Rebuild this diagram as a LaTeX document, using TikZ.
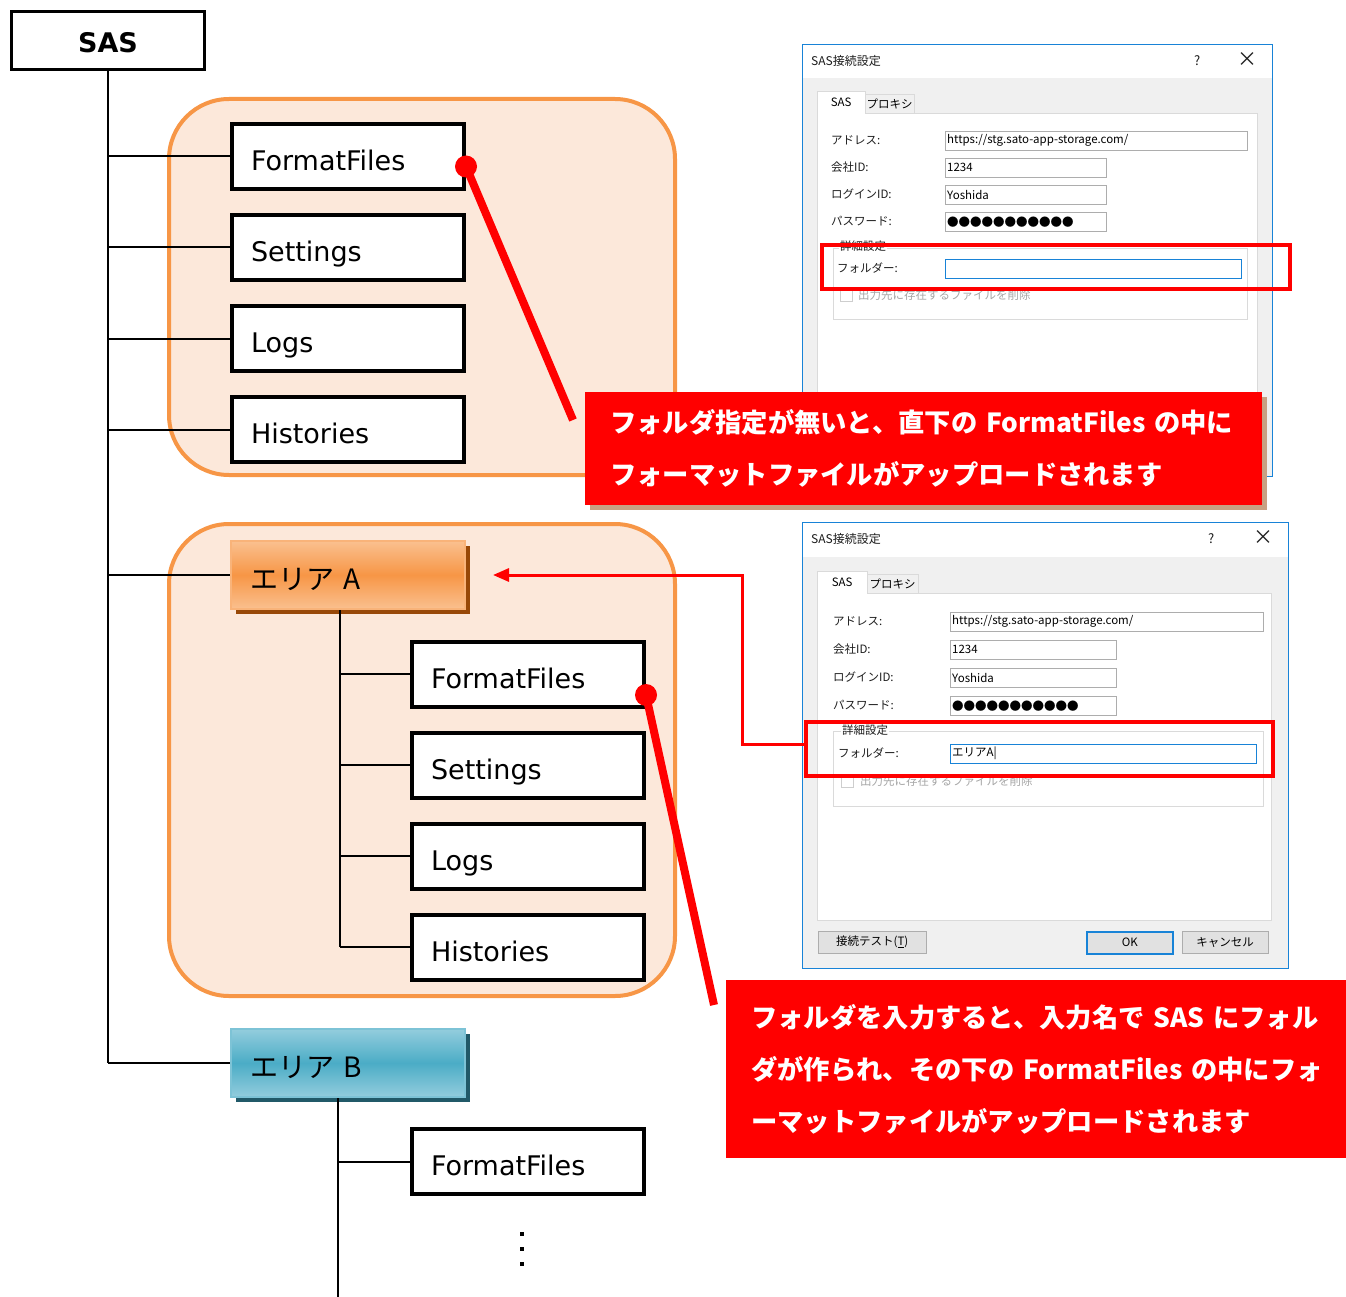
\documentclass[tikz,border=0pt]{standalone}
\usepackage{fontspec}
\setmainfont{DejaVu Sans}
\newfontfamily\jpfont{Noto Sans CJK JP}
\usepackage{tikz}
\usetikzlibrary{positioning, calc, arrows.meta, shadows}
\definecolor{grpline}{RGB}{247, 150, 70}
\definecolor{grpfill}{RGB}{252, 232, 218}
\definecolor{areaAmid}{RGB}{247, 150, 70}
\definecolor{areaAlight}{RGB}{250, 192, 143}
\definecolor{areaAshadow}{RGB}{152, 72, 7}
\definecolor{areaBmid}{RGB}{75, 172, 198}
\definecolor{areaBlight}{RGB}{147, 205, 221}
\definecolor{areaBshadow}{RGB}{33, 89, 104}
\definecolor{alertred}{RGB}{255, 0, 0}
\definecolor{calloutshadow}{RGB}{200, 160, 130}
\definecolor{winblue}{RGB}{24, 131, 215}
\definecolor{winbody}{RGB}{240, 240, 240}
\definecolor{winborder}{RGB}{173, 173, 173}
\definecolor{wingroup}{RGB}{218, 218, 218}
\definecolor{winbtn}{RGB}{225, 225, 225}
\definecolor{wintext}{RGB}{30, 30, 30}
\newcommand{\dlgfont}{\jpfont\fontsize{11.5}{13}\selectfont}
\tikzset{
  sasbox/.style={
    draw, line width=3pt, fill=white,
    minimum width=193pt, minimum height=58pt, inner ysep=0pt,
    text height=26pt, text depth=2pt,
    font=\fontsize{27}{32}\selectfont\bfseries
  },
  folderbox/.style={
    draw, line width=4pt, fill=white,
    minimum width=232pt, minimum height=65pt,
    text width=194pt, inner xsep=19pt, inner ysep=0pt, align=left,
    text height=30pt, text depth=2pt,
    font=\fontsize{27}{32}\selectfont
  },
  areabox/.style={
    folderbox, line width=2pt, minimum width=234pt, minimum height=68pt,
    text width=196pt, font=\jpfont\fontsize{28}{32}\selectfont
  },
  areaAbox/.style={
    areabox, draw=areaAlight!70!areaAmid,
    top color=areaAlight, bottom color=areaAlight, middle color=areaAmid,
    drop shadow={shadow xshift=5pt, shadow yshift=-5pt, fill=areaAshadow, opacity=1}
  },
  areaBbox/.style={
    areabox, draw=areaBlight!70!areaBmid,
    top color=areaBlight, bottom color=areaBlight, middle color=areaBmid,
    drop shadow={shadow xshift=5pt, shadow yshift=-5pt, fill=areaBshadow, opacity=1}
  },
  areagroup/.style={draw=grpline, fill=grpfill, line width=4pt, rounded corners=60pt},
  treeline/.style={draw=black, line width=2pt},
  dotmark/.style={fill=black, minimum size=4pt, inner sep=0pt},
  callout/.style={
    fill=alertred, text=white, anchor=north west, align=left,
    inner xsep=25pt, font=\jpfont\bfseries\fontsize{26.3}{52}\selectfont
  },
  pointer/.style={draw=alertred, line width=8pt},
  pointdot/.style={circle, fill=alertred, minimum size=22pt, inner sep=0pt},
  jumparrow/.style={draw=alertred, line width=3pt, -{Triangle[length=16pt, width=13pt]}},
  highlight/.style={draw=alertred, line width=4pt, anchor=north west, inner sep=0pt},
  dlgframe/.style={draw=winblue, fill=winbody, line width=1pt, anchor=north west, inner sep=0pt},
  dlgtitle/.style={fill=white, anchor=north west, inner sep=0pt},
  dlgpanel/.style={draw=wingroup, fill=white, anchor=north west, inner sep=0pt},
  dlgtab/.style={draw=wingroup, anchor=north west, inner sep=0pt, font=\dlgfont},
  dlgtext/.style={anchor=west, inner sep=0pt, text=wintext, font=\dlgfont},
  dlginput/.style={
    draw=winborder, fill=white, anchor=north west, inner xsep=2pt, inner ysep=0pt,
    align=left, text=black, minimum height=19pt, font=\dlgfont
  },
  dlggroup/.style={draw=wingroup, anchor=north west, inner sep=0pt},
  dlgbutton/.style={draw=winborder, fill=winbtn, anchor=north west, inner sep=0pt, font=\dlgfont}
}

\begin{document}
\begin{tikzpicture}[x=1pt, y=-1pt]
  \useasboundingbox (0,0) rectangle (1346,1297);

  % Root
  \node[sasbox] (sas) at (108,40.5) {SAS};

  % Group 1: no folder given
  \node[areagroup, minimum width=506pt, minimum height=376pt] (grp1) at (422,287) {};
  \node[folderbox] (ff1) at (348,156.5) {FormatFiles};
  \node[folderbox, below=22pt of ff1] (st1) {Settings};
  \node[folderbox, below=22pt of st1] (lg1) {Logs};
  \node[folderbox, below=22pt of lg1] (hs1) {Histories};

  % Group 2: folder = area A
  \node[areagroup, minimum width=506pt, minimum height=472pt] (grp2) at (422,760) {};
  \node[areaAbox] (areaA) at (348,575) {エリア A};
  \node[folderbox] (ff2) at (528,674) {FormatFiles};
  \node[folderbox, below=22pt of ff2] (st2) {Settings};
  \node[folderbox, below=22pt of st2] (lg2) {Logs};
  \node[folderbox, below=22pt of lg2] (hs2) {Histories};

  % Area B
  \node[areaBbox] (areaB) at (348,1063) {エリア B};
  \node[folderbox] (ff3) at (528,1161.5) {FormatFiles};
  \foreach \y [count=\i] in {1234,1249,1264}
    \node[dotmark] (dot\i) at (522,\y) {};

  % Tree lines
  \draw[treeline] (sas.south) -- (sas.south |- areaB.west);
  \foreach \n in {ff1,st1,lg1,hs1,areaA,areaB}
    \draw[treeline] (sas.south |- \n.west) -- (\n.west);
  \coordinate (trunkA) at ([xshift=-8pt]areaA.south);
  \draw[treeline] (trunkA) -- (trunkA |- hs2.west);
  \foreach \n in {ff2,st2,lg2,hs2}
    \draw[treeline] (trunkA |- \n.west) -- (\n.west);
  \coordinate (trunkB) at ([xshift=-10pt]areaB.south);
  \coordinate (bottomB) at (338,1297);
  \draw[treeline] (trunkB) -- (trunkB |- bottomB);
  \draw[treeline] (trunkB |- ff3.west) -- (ff3.west);

  % Dialog 1 (empty folder)
  \node[dlgframe, minimum width=470pt, minimum height=432pt] (dlg1) at (802,44) {};
  \node[dlgtitle, minimum width=469pt, minimum height=33pt] (dlg1bar) at (802.5,44.5) {};
  \node[dlgtext, font=\jpfont\fontsize{12}{14}\selectfont] (dlg1name) at (811,61) {SAS接続設定};
  \node[dlgtext, font=\jpfont\fontsize{13}{14}\selectfont] (dlg1help) at (1194,61) {?};
  \node[dlgtext, font=\jpfont\fontsize{20}{20}\selectfont] (dlg1close) at (1237,60) {×};
  \node[dlgpanel, minimum width=440pt, minimum height=328pt] (dlg1panel) at (817,113) {};
  \node[dlgtab, fill=winbody, minimum width=49pt, minimum height=19pt] (dlg1proxy) at (865,94) {プロキシ};
  \node[dlgtab, draw=none, fill=white, minimum width=48pt, minimum height=23pt] (dlg1sas) at (817,91) {SAS};
  \draw[wingroup] (dlg1sas.south west) -- (dlg1sas.north west) -- (dlg1sas.north east) -- (dlg1sas.south east);
  \node[dlgtext] (dlg1l1) at (831,140) {アドレス:};
  \node[dlgtext] (dlg1l2) at (831,167) {会社ID:};
  \node[dlgtext] (dlg1l3) at (831,194) {ログインID:};
  \node[dlgtext] (dlg1l4) at (831,221) {パスワード:};
  \node[dlginput, minimum width=302pt, text width=298pt] (dlg1addr) at (945,131) {https://stg.sato-app-storage.com/};
  \node[dlginput, minimum width=161pt, text width=157pt] (dlg1corp) at (945,158) {1234};
  \node[dlginput, minimum width=161pt, text width=157pt] (dlg1user) at (945,185) {Yoshida};
  \node[dlginput, minimum width=161pt, text width=157pt] (dlg1pass) at (945,212) {●●●●●●●●●●●};
  \node[dlggroup, minimum width=414pt, minimum height=71pt] (dlg1grp) at (833,248) {};
  \node[dlgtext, fill=white, inner xsep=1pt] (dlg1grplbl) at (839,246) {詳細設定};
  \node[dlgtext] (dlg1l5) at (837,268) {フォルダー:};
  \node[dlginput, draw=winblue, minimum width=296pt, text width=292pt] (dlg1folder) at (945,259) {};
  \node[dlggroup, draw=winborder!60, fill=white, minimum width=12pt, minimum height=12pt] (dlg1check) at (840,289) {};
  \node[dlgtext, text=gray!70] (dlg1checklbl) at (858,295) {出力先に存在するファイルを削除};
  \node[highlight, minimum width=468pt, minimum height=44pt] (hl1) at (820,243) {};

  % Dialog 2 (folder = area A)
  \node[dlgframe, minimum width=486pt, minimum height=446pt] (dlg2) at (802,522) {};
  \node[dlgtitle, minimum width=485pt, minimum height=34pt] (dlg2bar) at (802.5,522.5) {};
  \node[dlgtext, font=\jpfont\fontsize{12}{14}\selectfont] (dlg2name) at (811,539) {SAS接続設定};
  \node[dlgtext, font=\jpfont\fontsize{13}{14}\selectfont] (dlg2help) at (1208,539) {?};
  \node[dlgtext, font=\jpfont\fontsize{20}{20}\selectfont] (dlg2close) at (1253,538) {×};
  \node[dlgpanel, minimum width=454pt, minimum height=327pt] (dlg2panel) at (817,593) {};
  \node[dlgtab, fill=winbody, minimum width=51pt, minimum height=19pt] (dlg2proxy) at (867,574) {プロキシ};
  \node[dlgtab, draw=none, fill=white, minimum width=50pt, minimum height=23pt] (dlg2sas) at (817,571) {SAS};
  \draw[wingroup] (dlg2sas.south west) -- (dlg2sas.north west) -- (dlg2sas.north east) -- (dlg2sas.south east);
  \node[dlgtext] (dlg2l1) at (833,621) {アドレス:};
  \node[dlgtext] (dlg2l2) at (833,649) {会社ID:};
  \node[dlgtext] (dlg2l3) at (833,677) {ログインID:};
  \node[dlgtext] (dlg2l4) at (833,705) {パスワード:};
  \node[dlginput, minimum width=313pt, text width=309pt] (dlg2addr) at (950,612) {https://stg.sato-app-storage.com/};
  \node[dlginput, minimum width=166pt, text width=162pt] (dlg2corp) at (950,640) {1234};
  \node[dlginput, minimum width=166pt, text width=162pt] (dlg2user) at (950,668) {Yoshida};
  \node[dlginput, minimum width=166pt, text width=162pt] (dlg2pass) at (950,696) {●●●●●●●●●●●};
  \node[dlggroup, minimum width=430pt, minimum height=75pt] (dlg2grp) at (833,731) {};
  \node[dlgtext, fill=white, inner xsep=1pt] (dlg2grplbl) at (841,730) {詳細設定};
  \node[dlgtext] (dlg2l5) at (838,753) {フォルダー:};
  \node[dlginput, draw=winblue, minimum width=306pt, text width=302pt] (dlg2folder) at (950,744) {エリアA|};
  \node[dlggroup, draw=winborder!60, fill=white, minimum width=12pt, minimum height=12pt] (dlg2check) at (841,775) {};
  \node[dlgtext, text=gray!70] (dlg2checklbl) at (860,781) {出力先に存在するファイルを削除};
  \node[highlight, minimum width=467pt, minimum height=54pt] (hl2) at (804,720) {};
  \node[dlgbutton, minimum width=108pt, minimum height=22pt] (dlg2test) at (818,931) {接続テスト(\underline{T})};
  \node[dlgbutton, draw=winblue, line width=1.5pt, minimum width=86pt, minimum height=22pt] (dlg2ok) at (1086,931) {OK};
  \node[dlgbutton, minimum width=86pt, minimum height=22pt] (dlg2cancel) at (1182,931) {キャンセル};

  % Callouts
  \node[callout, drop shadow={shadow xshift=5pt, shadow yshift=-5pt, fill=calloutshadow, opacity=1},
        minimum width=677pt, minimum height=113pt, text width=627pt] (note1) at (585,392)
    {フォルダ指定が無いと、直下の FormatFiles の中に\\フォーマットファイルがアップロードされます};
  \node[callout, minimum width=620pt, minimum height=178pt, text width=572pt] (note2) at (726,980)
    {フォルダを入力すると、入力名で SAS にフォル\\ダが作られ、その下の FormatFiles の中にフォ\\ーマットファイルがアップロードされます};

  % Pointers
  \node[pointdot] (dot1) at ([yshift=-10pt]ff1.east) {};
  \coordinate (tip1) at ([xshift=-12pt, yshift=-28pt]note1.north west);
  \draw[pointer] (dot1.center) -- (tip1);
  \node[pointdot] (dot2) at ([yshift=-21pt]ff2.east) {};
  \coordinate (tip2) at ([xshift=-12pt, yshift=-25pt]note2.north west);
  \draw[pointer] (dot2.center) -- (tip2);
  \draw[jumparrow] ([yshift=5pt]hl2.west) -- ++(-62,0) |- ([xshift=27pt]areaA.east);

\end{tikzpicture}
\end{document}
